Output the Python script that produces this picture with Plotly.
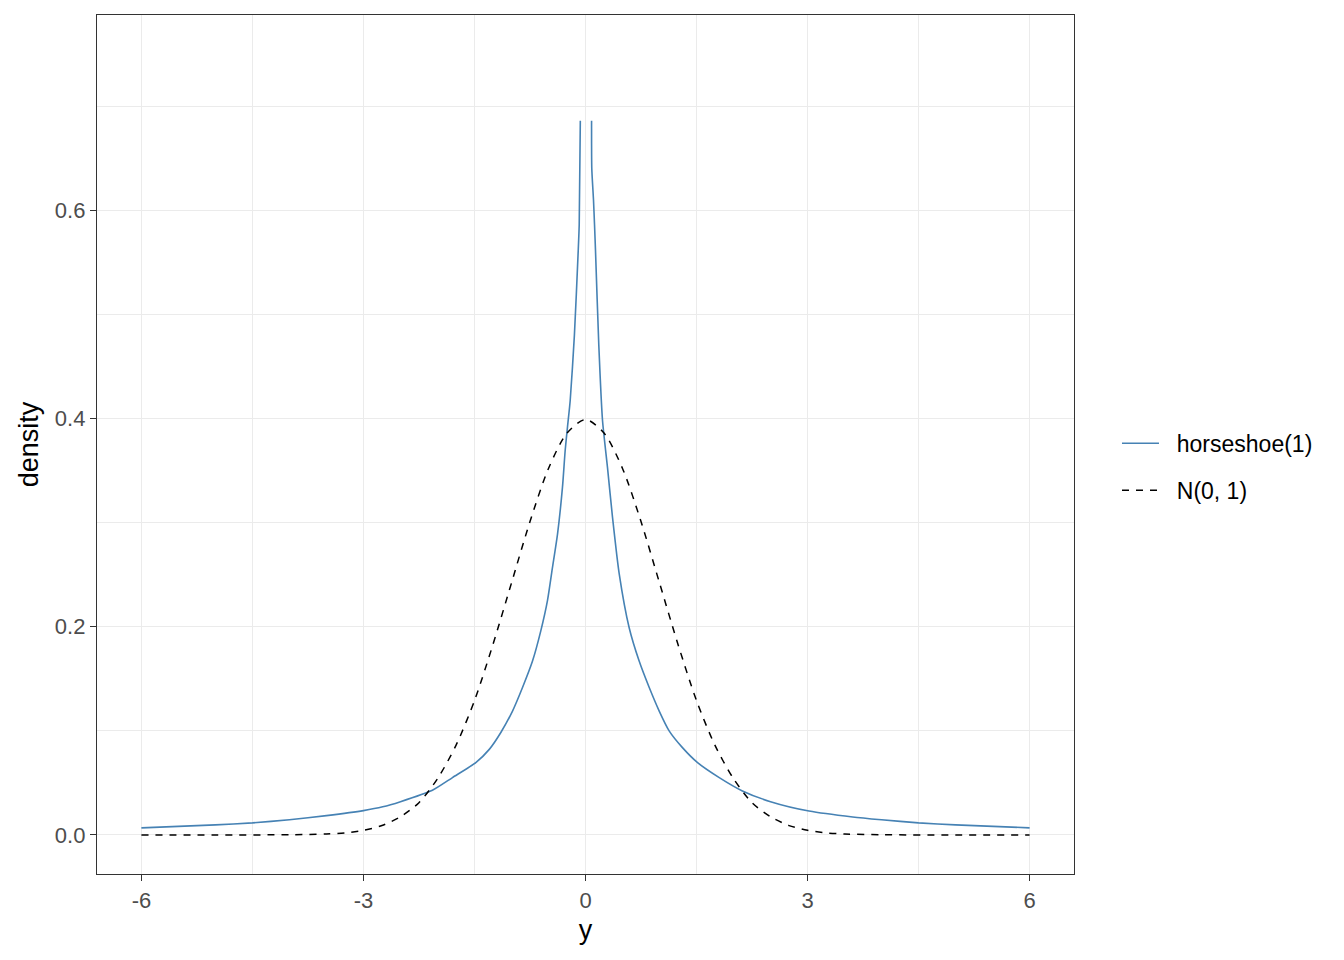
import plotly.graph_objects as go

# Values
hs_x = [-6, -5, -4.5, -4, -3.5, -3, -2.74, -2.5, -2.068, -1.797, -1.482, -1.30, -1.144, -0.986, -0.851,
        -0.716, -0.604, -0.514, -0.446, -0.378, -0.311, -0.275, -0.243, -0.207, -0.15, -0.099, -0.085, -0.07,
        0,
        0.082, 0.085, 0.108, 0.122, 0.135, 0.18, 0.23, 0.297, 0.365, 0.455, 0.59, 0.725, 0.861, 0.996,
        1.13, 1.31, 1.514, 1.807, 2.12, 2.5, 3.02, 3.61, 4, 4.5, 5, 6]
hs_y = [0.0068, 0.0097, 0.0116, 0.0146, 0.0186, 0.0234, 0.027, 0.032, 0.0429, 0.0551, 0.0695, 0.0822, 0.0984,
        0.119, 0.1416, 0.167, 0.196, 0.225, 0.257, 0.289, 0.334, 0.369, 0.392, 0.417, 0.48, 0.56, 0.586, 0.686,
        None,
        0.686, 0.64, 0.61, 0.586, 0.5615, 0.47, 0.398, 0.353, 0.305, 0.251, 0.199, 0.167, 0.1416, 0.119,
        0.1, 0.0839, 0.0695, 0.0551, 0.0423, 0.032, 0.023, 0.0173, 0.0146, 0.0116, 0.0097, 0.0068]

nm_x = [-6, -5, -4, -3.5, -3.25, -3, -2.75, -2.5, -2.25, -2, -1.75, -1.5, -1.25, -1, -0.75, -0.5,
        -0.25, 0, 0.25, 0.5, 0.75, 1, 1.25, 1.5, 1.75, 2, 2.25, 2.5, 2.75, 3, 3.25, 3.5, 4, 5, 6]
nm_y = [0, 0, 0.0002, 0.0009, 0.002, 0.0045, 0.009, 0.0175, 0.031, 0.054, 0.086, 0.129, 0.183,
        0.242, 0.301, 0.352, 0.386, 0.399, 0.386, 0.352, 0.301, 0.242, 0.183, 0.129, 0.086, 0.054,
        0.031, 0.0175, 0.009, 0.0045, 0.002, 0.0009, 0.0002, 0, 0]

series_names = ["horseshoe(1)", "N(0, 1)"]
x_ticks = [-6, -3, 0, 3, 6]
y_ticks = [0.0, 0.2, 0.4, 0.6]
y_tick_text = ["0.0", "0.2", "0.4", "0.6"]

pad = "\u00a0\u00a0"
fig = go.Figure()
fig.add_trace(go.Scatter(x=hs_x, y=hs_y, mode="lines", name=pad + series_names[0], legendgroup="a",
                         line=dict(color="#4682B4", width=1.6, shape="spline", smoothing=0.6),
                         connectgaps=False))
fig.add_trace(go.Scatter(x=nm_x, y=nm_y, mode="lines", name=pad + series_names[1], legendgroup="b",
                         line=dict(color="black", width=1.5, dash="7px,7px", shape="spline", smoothing=0.8)))

font_family = "Liberation Sans, Arial, sans-serif"
axis_common = dict(
    showline=True, linecolor="#333333", linewidth=1.3, mirror=True,
    ticks="outside", ticklen=6, tickcolor="#333333", tickwidth=1.3,
    tickfont=dict(family=font_family, size=22, color="#4D4D4D"),
    gridcolor="#EBEBEB", gridwidth=1.4, zeroline=False,
)
fig.update_layout(
    width=1337, height=953,
    paper_bgcolor="white", plot_bgcolor="white",
    margin=dict(l=89, r=271, t=7, b=87),
    font=dict(family=font_family),
    xaxis=dict(range=[-6.6, 6.6], tickvals=x_ticks, ticktext=[str(v) for v in x_ticks],
               title=dict(text="y", font=dict(size=27, color="black"), standoff=8),
               minor=dict(tickvals=[-4.5, -1.5, 1.5, 4.5], showgrid=True, gridcolor="#EBEBEB", gridwidth=0.8, ticks=""),
               **axis_common),
    yaxis=dict(range=[-0.0375, 0.7875], tickvals=y_ticks, ticktext=y_tick_text,
               title=dict(text="density", font=dict(size=27, color="black"), standoff=8),
               minor=dict(tickvals=[0.1, 0.3, 0.5, 0.7], showgrid=True, gridcolor="#EBEBEB", gridwidth=0.8, ticks=""),
               **axis_common),
    legend=dict(x=1.044, y=0.474, xanchor="left", yanchor="middle",
                font=dict(family=font_family, size=23, color="black"),
                bgcolor="rgba(0,0,0,0)", tracegroupgap=14, itemwidth=37),
    showlegend=True,
)
fig.write_html("out.html")
